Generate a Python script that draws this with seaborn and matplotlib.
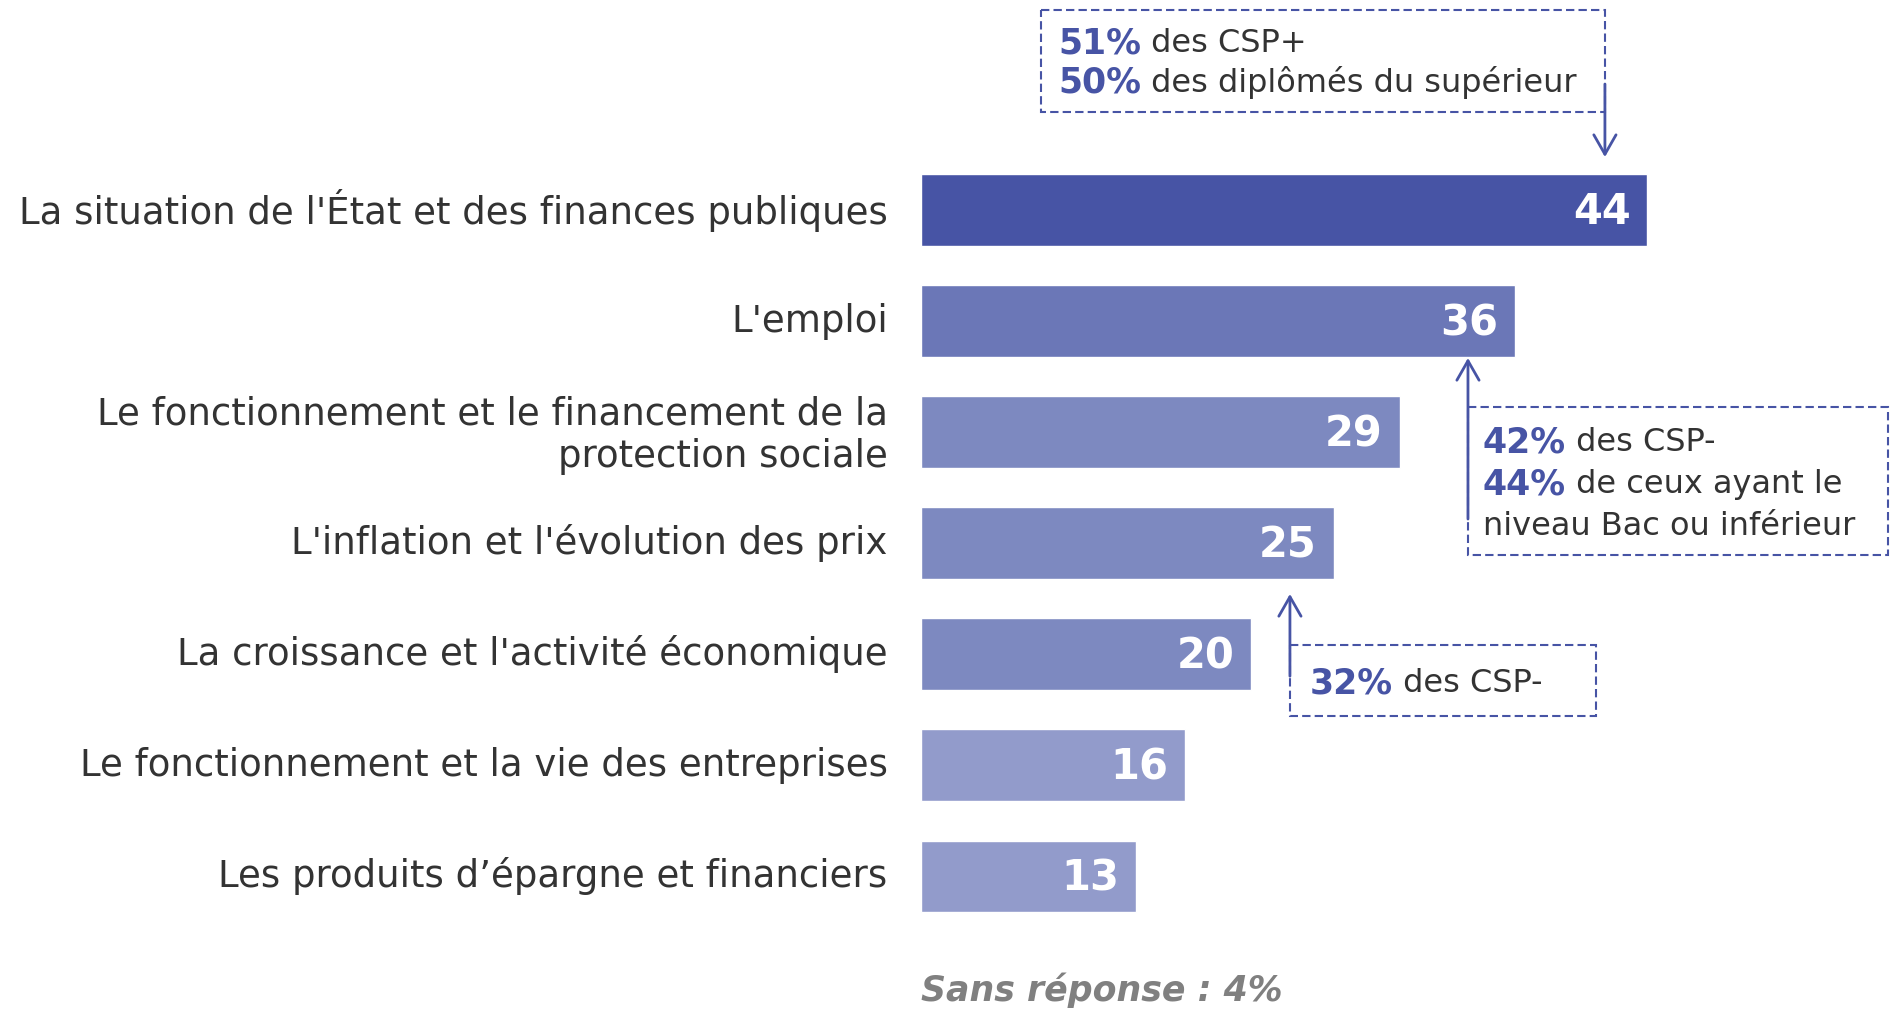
import matplotlib
matplotlib.use("Agg")
import matplotlib.pyplot as plt
import matplotlib.patches as patches
import matplotlib.transforms as mtransforms
import pandas as pd
import seaborn as sns

categories = [
    "La situation de l'État et des finances publiques",
    "L'emploi",
    "Le fonctionnement et le financement de la\nprotection sociale",
    "L'inflation et l'évolution des prix",
    "La croissance et l'activité économique",
    "Le fonctionnement et la vie des entreprises",
    "Les produits d\u2019épargne et financiers",
]
values = [44, 36, 29, 25, 20, 16, 13]
bar_colors = ["#4754A5", "#6B77B7", "#7D89C0", "#7D89C0", "#7D89C0", "#929BCB", "#929BCB"]
no_answer = "Sans réponse : 4%"

# annotations: (bold part, rest) per line
note_top = [("51%", " des CSP+"), ("50%", " des diplômés du supérieur")]
note_mid = [("42%", " des CSP-"), ("44%", " de ceux ayant le"), ("", "niveau Bac ou inférieur")]
note_low = [("32%", " des CSP-")]

BLUE = "#4754A5"
TXT = "#333333"

sns.set_style("white")
plt.rcParams["font.family"] = ["DejaVu Sans"]

df = pd.DataFrame({"cat": categories, "val": values})

fig = plt.figure(figsize=(18.92, 10.10), dpi=100)
ax = fig.add_axes([921 / 1892, 0, 1 - 921 / 1892, 1])

sns.barplot(data=df, x="val", y="cat", hue="cat", palette=bar_colors,
            legend=False, width=0.64, orient="h", ax=ax, saturation=1)

ax.set_xlim(0, (1892 - 921) / 16.5)
ax.set_ylim(7.207, -1.892)
ax.set_xlabel("")
ax.set_ylabel("")
ax.set_xticks([])
ax.tick_params(axis="y", length=0, pad=24, labelsize=26.7, labelcolor=TXT)
up = mtransforms.ScaledTranslation(0, 4 / 100, fig.dpi_scale_trans)
for lab in ax.get_yticklabels():
    lab.set_transform(lab.get_transform() + up)
for s in ax.spines.values():
    s.set_visible(False)

for i, v in enumerate(values):
    ax.text(v - 1.0, i + 0.02, str(v), ha="right", va="center", color="white",
            fontsize=30, fontweight="bold")

ax.text(0, 7.03, no_answer, ha="left", va="center", color="#808080",
        fontsize=25, fontweight="bold", fontstyle="italic")

renderer = fig.canvas.get_renderer()


def draw_note(lines, x, ys):
    for (bold, rest), y in zip(lines, ys):
        if bold:
            t = ax.text(x, y, bold, ha="left", va="center", color=BLUE,
                        fontsize=25, fontweight="bold")
            w = t.get_window_extent(renderer).width
            tr = mtransforms.offset_copy(ax.transData, fig=fig, x=w, y=0, units="dots")
            ax.text(x, y, rest, ha="left", va="center", color=TXT,
                    fontsize=23, transform=tr)
        else:
            ax.text(x, y, rest, ha="left", va="center", color=TXT, fontsize=23)


def draw_box(x0, x1, y0, y1):
    r = patches.Rectangle((x0, y0), x1 - x0, y1 - y0, fill=False, edgecolor=BLUE,
                          linewidth=1.5, linestyle=(0, (4, 2)), clip_on=False)
    ax.add_patch(r)


def draw_arrow(x, y_from, y_to):
    ax.annotate("", xy=(x, y_to), xytext=(x, y_from),
                arrowprops=dict(arrowstyle="->,head_length=1.4,head_width=0.8",
                                color=BLUE, lw=2, shrinkA=0, shrinkB=0),
                annotation_clip=False)


draw_box(7.27, 41.45, -1.80, -0.883)
draw_note(note_top, 8.3, [-1.50, -1.15])
draw_arrow(41.45, -1.135, -0.477)

draw_box(33.15, 58.6, 1.775, 3.108)
draw_note(note_mid, 34.06, [2.09, 2.477, 2.847])
draw_arrow(33.15, 2.784, 1.333)

draw_box(22.36, 40.9, 3.919, 4.559)
draw_note(note_low, 23.58, [4.27])
draw_arrow(22.36, 4.2, 3.459)

fig.savefig("out.png", dpi=100, facecolor="white")
